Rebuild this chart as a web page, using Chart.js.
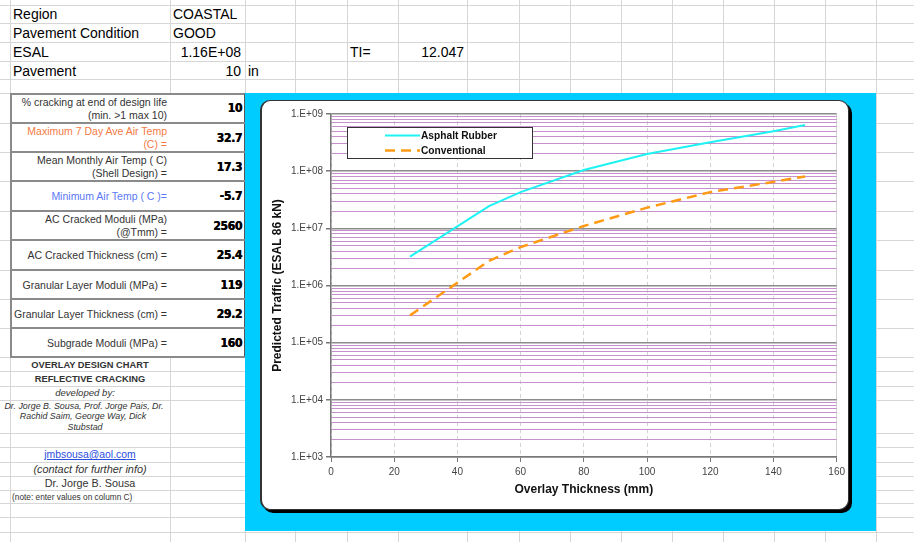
<!DOCTYPE html>
<html>
<head>
<meta charset="utf-8">
<script src="https://cdn.jsdelivr.net/npm/chart.js@4.4.1/dist/chart.umd.min.js"></script>
<style>
  html, body { margin: 0; padding: 0; }
  body { width: 914px; height: 542px; position: relative; overflow: hidden; background: #fff;
         font-family: Arial, "Liberation Sans", sans-serif; color: #000; }
  .gl { position: absolute; background: #d6d6d6; }
  .t { position: absolute; white-space: nowrap; height: 20px; line-height: 20px; }
  #tabla { position: absolute; left: 10px; top: 93px; width: 232px; height: 263px; background: #fff;
           border-top: 2px solid #8a8a8a; border-left: 2px solid #8a8a8a; border-right: 1px solid #555; }
  .sep { position: absolute; left: 10px; width: 235px; height: 2px; background: #8a8a8a; }
  #syaani { position: absolute; left: 245px; top: 93px; width: 631px; height: 438px; background: #00ccff; }
  #kehys { position: absolute; left: 260px; top: 100px; width: 586px; height: 408px; background: #fff;
           border: 1px solid #333; border-left-width: 2px; border-radius: 10px; box-shadow: 3px 3px 0 #000; }
  #kaavio { position: absolute; left: 261px; top: 101px; }
</style>
</head>
<body>
<div id="tabla"></div>
<div id="syaani"></div>
<div id="kehys"></div>
<canvas id="kaavio" width="588" height="409"></canvas>
<script>
// Kaavion data (luettu kuvasta)
const thickness = [25, 50, 60, 80, 100, 120, 140, 150];
const asphaltRubber = [3.2e6, 2.45e7, 4.3e7, 1.05e8, 2.0e8, 3.2e8, 5.0e8, 6.4e8];
const conventional = [3.0e5, 2.7e6, 4.7e6, 1.1e7, 2.3e7, 4.3e7, 6.5e7, 8.1e7];
const seriesNames = ['Asphalt Rubber', 'Conventional'];
const xTickValues = [0, 20, 40, 60, 80, 100, 120, 140, 160];
const yDecades = [1e3, 1e4, 1e5, 1e6, 1e7, 1e8, 1e9];
const yTickLabels = ['1.E+03', '1.E+04', '1.E+05', '1.E+06', '1.E+07', '1.E+08', '1.E+09'];

// Taulukon arvot
const paramLabels = [
  ['% cracking at end of design life', '(min. >1 max 10)'],
  ['Maximum 7 Day Ave Air Temp', '(C) ='],
  ['Mean Monthly Air Temp ( C)', '(Shell Design) ='],
  ['Minimum Air Temp ( C )='],
  ['AC Cracked Moduli (MPa)', '(@Tmm) ='],
  ['AC Cracked Thickness (cm) ='],
  ['Granular Layer Moduli (MPa) ='],
  ['Granular Layer Thickness (cm) ='],
  ['Subgrade Moduli (MPa) =']
];
const paramValues = ['10', '32.7', '17.3', '-5.7', '2560', '25.4', '119', '29.2', '160'];
const paramColors = ['#333', '#f47a45', '#333', '#5a78f5', '#333', '#333', '#333', '#333', '#333'];

// Taulukkolaskennan ruudukko
const page = document.body;
const cols = [10, 170, 245, 295, 347, 398, 467, 519, 570, 621, 672, 723, 774, 825, 876];
const rows = [5, 23, 42, 61, 79, 93, 123, 152, 181, 211, 240, 270, 299, 328, 357, 371, 386, 400, 433, 447, 462, 476, 490, 503, 517, 532];
const first = page.firstChild;
rows.forEach(y => {
  const d = document.createElement('div');
  d.className = 'gl';
  Object.assign(d.style, { left: '0px', top: y + 'px', width: '914px', height: '1px' });
  page.insertBefore(d, first);
});
cols.forEach(x => {
  const d = document.createElement('div');
  d.className = 'gl';
  Object.assign(d.style, { left: x + 'px', top: '0px', width: '1px', height: '542px' });
  page.insertBefore(d, first);
});

function put(txt, x, yc, align, style) {
  const d = document.createElement('div');
  d.className = 't';
  d.textContent = txt;
  d.style.top = (yc - 10) + 'px';
  if (align === 'left') d.style.left = x + 'px';
  else if (align === 'right') d.style.right = (914 - x) + 'px';
  else { d.style.left = (x - 150) + 'px'; d.style.width = '300px'; d.style.textAlign = 'center'; }
  Object.assign(d.style, style || {});
  page.insertBefore(d, document.getElementById('syaani'));
  return d;
}

// Yläosan tekstit
const big = { fontSize: '14px' };
put('Region', 13, 14, 'left', big);
put('COASTAL', 173, 14, 'left', big);
put('Pavement Condition', 13, 33, 'left', big);
put('GOOD', 173, 33, 'left', big);
put('ESAL', 13, 52, 'left', big);
put('1.16E+08', 241, 52, 'right', big);
put('TI=', 350, 52, 'left', big);
put('12.047', 464, 52, 'right', big);
put('Pavement', 13, 71, 'left', big);
put('10', 241, 71, 'right', big);
put('in', 248, 71, 'left', big);

// Parametritaulukko
const tableRows = [93, 123, 152, 181, 211, 240, 270, 299, 328, 357];
tableRows.slice(1).forEach(y => {
  const s = document.createElement('div');
  s.className = 'sep';
  s.style.top = (y - 1) + 'px';
  page.insertBefore(s, document.getElementById('syaani'));
});
paramLabels.forEach((lines, i) => {
  const yc = (tableRows[i] + tableRows[i + 1]) / 2;
  lines.forEach((l, j) => {
    const y = yc + (j - (lines.length - 1) / 2) * 13;
    put(l, 167, y, 'right', { fontSize: '10.5px', color: paramColors[i] });
  });
  put(paramValues[i], 242, yc, 'right',
      { fontFamily: '"DejaVu Sans Condensed", "DejaVu Sans", sans-serif', fontWeight: 'bold',
        fontSize: '12px', letterSpacing: '-0.3px', textShadow: '0.4px 0 0 #000' });
});

// Alaosan tekstit
put('OVERLAY DESIGN CHART', 90, 365, 'center', { fontSize: '9.3px', fontWeight: 'bold', color: '#333' });
put('REFLECTIVE CRACKING', 90, 379, 'center', { fontSize: '9.3px', fontWeight: 'bold', color: '#333' });
put('developed by:', 85, 393, 'center', { fontSize: '9.6px', fontStyle: 'italic', color: '#333' });
put('Dr. Jorge B. Sousa, Prof. Jorge Pais, Dr.', 84, 406, 'center', { fontSize: '8.9px', fontStyle: 'italic', color: '#333' });
put('Rachid Saim, George Way, Dick', 83, 416, 'center', { fontSize: '8.9px', fontStyle: 'italic', color: '#333' });
put('Stubstad', 85, 427, 'center', { fontSize: '8.9px', fontStyle: 'italic', color: '#333' });
put('jmbsousa@aol.com', 90, 455, 'center', { fontSize: '10.4px', color: '#2a4de0', textDecoration: 'underline' });
put('(contact for further info)', 90, 469, 'center', { fontSize: '10.9px', fontStyle: 'italic', color: '#333' });
put('Dr. Jorge B. Sousa', 90, 483, 'center', { fontSize: '10.8px', color: '#333' });
put('(note: enter values on column C)', 12, 497, 'left', { fontSize: '8.3px', color: '#333' });

// Legenda laatikon sisällä
const legendBox = {
  id: 'legendBox',
  afterDatasetsDraw(chart) {
    const { ctx, chartArea } = chart;
    const x = chartArea.left + 16, y = chartArea.top + 13;
    ctx.save();
    ctx.fillStyle = '#fff';
    ctx.fillRect(x, y, 185, 31);
    ctx.strokeStyle = '#333';
    ctx.lineWidth = 1;
    ctx.strokeRect(x + 0.5, y + 0.5, 185, 31);
    chart.data.datasets.forEach((ds, i) => {
      const ly = y + 8.5 + i * 15;
      ctx.strokeStyle = ds.borderColor;
      ctx.lineWidth = ds.borderWidth;
      ctx.setLineDash(ds.borderDash || []);
      ctx.beginPath();
      ctx.moveTo(x + 38, ly);
      ctx.lineTo(x + 73, ly);
      ctx.stroke();
      ctx.setLineDash([]);
      ctx.fillStyle = '#111';
      ctx.font = 'bold 10.2px Arial, "Liberation Sans", sans-serif';
      ctx.textBaseline = 'middle';
      ctx.fillText(ds.label, x + 74, ly + 0.5);
    });
    ctx.restore();
  }
};

// Pienet ruudukkoviivat 2..9 jokaisella dekadilla
const yGridValues = [];
yDecades.forEach((d, i) => {
  yGridValues.push(d);
  if (i < yDecades.length - 1) for (let k = 2; k <= 9; k++) yGridValues.push(d * k);
});
const isDecade = v => yDecades.includes(v);

new Chart(document.getElementById('kaavio'), {
  type: 'line',
  data: {
    datasets: [{
      label: seriesNames[0],
      data: thickness.map((x, i) => ({ x: x, y: asphaltRubber[i] })),
      borderColor: '#1ef2f2',
      borderWidth: 2,
      pointRadius: 0,
      tension: 0
    }, {
      label: seriesNames[1],
      data: thickness.map((x, i) => ({ x: x, y: conventional[i] })),
      borderColor: '#ff9a14',
      borderWidth: 2.5,
      borderDash: [10, 6],
      pointRadius: 0,
      tension: 0
    }]
  },
  options: {
    responsive: false,
    animation: false,
    devicePixelRatio: 1,
    layout: { padding: { left: 0, top: 13, right: 12, bottom: 0 } },
    plugins: { legend: { display: false }, tooltip: { enabled: false } },
    scales: {
      x: {
        type: 'linear', min: 0, max: 160,
        afterBuildTicks: s => { s.ticks = xTickValues.map(v => ({ value: v })); },
        afterFit: s => { s.height = 53; },
        ticks: { autoSkip: false, maxRotation: 0, padding: 4, color: '#444',
                 font: { family: 'Arial, "Liberation Sans"', size: 10 } },
        grid: { color: '#d2d2d2', lineWidth: 1, tickColor: '#777', tickLength: 5 },
        border: { color: '#777', width: 1.5, dash: c => (c.tick && c.tick.value === 160) ? [] : [4, 3] },
        title: { display: true, text: 'Overlay Thickness (mm)', color: '#111',
                 font: { family: 'Arial, "Liberation Sans"', size: 12, weight: 'bold' },
                 padding: { top: 0, bottom: 13 } }
      },
      y: {
        type: 'logarithmic', min: 1e3, max: 1e9,
        afterBuildTicks: s => { s.ticks = yGridValues.map(v => ({ value: v })); },
        afterFit: s => { s.width = 70; },
        ticks: { autoSkip: false, padding: 3, color: '#444',
                 font: { family: 'Arial, "Liberation Sans"', size: 10 },
                 callback: v => { const i = yDecades.indexOf(v); return i >= 0 ? yTickLabels[i] : ''; } },
        grid: {
          color: c => (c.tick && isDecade(c.tick.value)) ? '#8c8c8c' : '#c690cc',
          lineWidth: c => (c.tick && isDecade(c.tick.value)) ? 1.5 : 1,
          tickColor: c => (c.tick && isDecade(c.tick.value)) ? '#777' : 'rgba(0,0,0,0)',
          tickLength: 5
        },
        border: { color: '#777', width: 1.5 },
        title: { display: true, text: 'Predicted Traffic (ESAL 86 kN)', color: '#111',
                 font: { family: 'Arial, "Liberation Sans"', size: 12, weight: 'bold' },
                 padding: { top: 9, bottom: 0 } }
      }
    }
  },
  plugins: [legendBox]
});
</script>
</body>
</html>
